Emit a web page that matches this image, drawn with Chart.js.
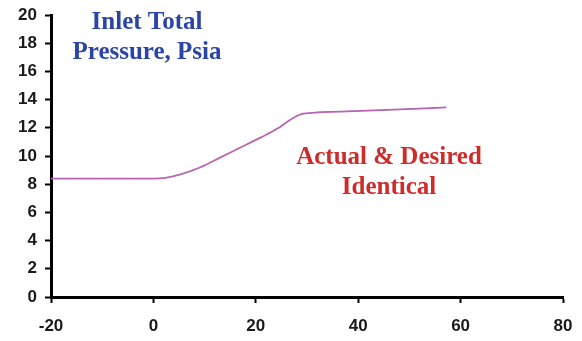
<!DOCTYPE html>
<html>
<head>
<meta charset="utf-8">
<script src="https://cdn.jsdelivr.net/npm/chart.js@4/dist/chart.umd.min.js"></script>
<style>
  html, body { margin: 0; padding: 0; background: #fff; }
  #wrap { width: 582px; height: 341px; }
</style>
</head>
<body>
<div id="wrap"><canvas id="pressure-chart" width="582" height="341"></canvas></div>
<script>
// Data
const timeVals = [-20, 0, 2.3, 5.3, 9.2, 13.1, 17, 20.9, 24.5, 27.3, 29.3, 36.5, 48.2, 57.2];
const pressureVals = [8.4, 8.4, 8.45, 8.7, 9.2, 9.9, 10.6, 11.3, 12.0, 12.7, 13.0, 13.15, 13.3, 13.45];
const xTicks = [-20, 0, 20, 40, 60, 80];
const yTicks = [0, 2, 4, 6, 8, 10, 12, 14, 16, 18, 20];

const tickFont = { family: "'Liberation Sans', Arial, sans-serif", size: 17, weight: "bold" };

// Text labels drawn on the plot
const notes = {
    id: "notes",
    afterDraw(chart) {
        const ctx = chart.ctx;
        ctx.save();
        ctx.font = "bold 25px 'Liberation Serif', 'Times New Roman', serif";
        ctx.textAlign = "center";
        ctx.textBaseline = "middle";
        ctx.fillStyle = "#2b45a6";
        ctx.fillText("Inlet Total", 147, 23);
        ctx.fillText("Pressure, Psia", 147, 53);
        ctx.fillStyle = "#d02b2b";
        ctx.fillText("Actual & Desired", 389, 158);
        ctx.fillText("Identical", 389, 188);
        ctx.restore();
    }
};

const points = timeVals.map((t, i) => ({ x: t, y: pressureVals[i] }));

new Chart(document.getElementById("pressure-chart"), {
    type: "line",
    data: {
        datasets: [{
            label: "Desired",
            data: points,
            borderColor: "#b866b4",
            borderWidth: 1.8,
            pointRadius: 0,
            cubicInterpolationMode: "monotone"
        }, {
            label: "Actual",
            data: points,
            borderColor: "rgba(60,25,95,0.4)",
            borderWidth: 1,
            borderDash: [18, 10],
            pointRadius: 0,
            cubicInterpolationMode: "monotone"
        }]
    },
    options: {
        responsive: false,
        animation: false,
        layout: { padding: { top: 15, right: 19, left: 0, bottom: 0 } },
        plugins: { legend: { display: false }, tooltip: { enabled: false } },
        scales: {
            x: {
                type: "linear",
                min: -20,
                max: 80,
                afterBuildTicks: s => { s.ticks = xTicks.map(v => ({ value: v })); },
                afterFit: s => { s.height = 44; s.paddingLeft = 0; s.paddingRight = 0; },
                grid: { drawOnChartArea: false, tickLength: 6, tickColor: "#000", tickWidth: 2 },
                border: { color: "#000", width: 3 },
                ticks: { font: tickFont, color: "#1a1a1a", padding: 13, maxRotation: 0 }
            },
            y: {
                min: 0,
                max: 20,
                afterBuildTicks: s => { s.ticks = yTicks.map(v => ({ value: v })); },
                afterFit: s => { s.width = 51; s.paddingTop = 0; s.paddingBottom = 0; },
                grid: { drawOnChartArea: false, tickLength: 6, tickColor: "#000", tickWidth: 2 },
                border: { color: "#000", width: 3 },
                ticks: { font: tickFont, color: "#1a1a1a", padding: 8 }
            }
        }
    },
    plugins: [notes]
});
</script>
</body>
</html>
